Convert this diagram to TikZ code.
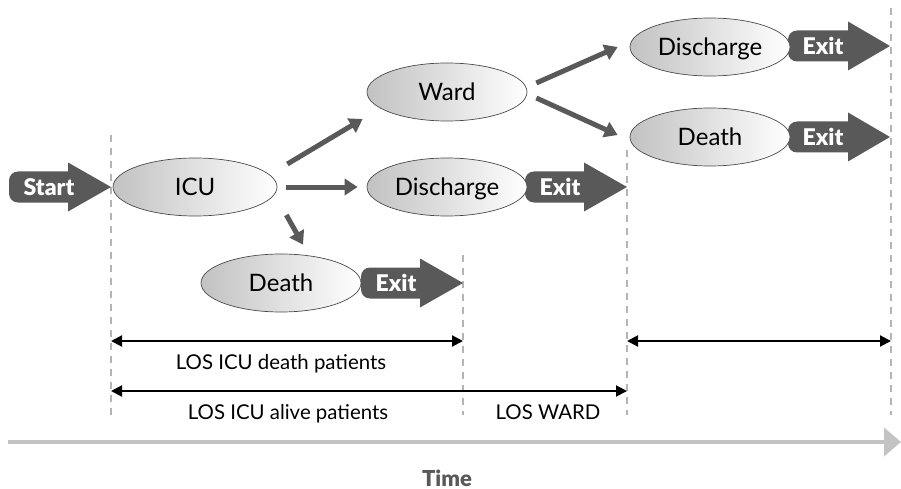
\documentclass[tikz,border=0pt]{standalone}
\usepackage{fontspec}
\setmainfont{Lato}
\newfontfamily\heavyfont{Lato Black}
\usetikzlibrary{arrows.meta,calc,shapes.geometric}

\definecolor{flowgray}{HTML}{595959}
\definecolor{guidegray}{HTML}{B4B4B4}
\definecolor{timegray}{HTML}{C3C3C3}
\definecolor{edgegray}{HTML}{4A4A4A}

\tikzset{
  state/.style={ellipse, draw=edgegray, line width=0.7pt,
    left color=black!24, right color=white,
    minimum width=160pt, minimum height=58pt, inner sep=0pt,
    text depth=0pt, font=\fontsize{24}{28}\selectfont},
  flow/.style={draw=flowgray, line width=5pt,
    -{Triangle[width=16pt,length=13pt]}},
  span/.style={line width=2pt,
    {Triangle[width=11pt,length=11pt]}-{Triangle[width=11pt,length=11pt]}},
  guide/.style={draw=guidegray, line width=2pt, dash pattern=on 7pt off 6pt},
  spanlabel/.style={font=\fontsize{20.4}{24}\selectfont, inner sep=0pt, text depth=0pt},
  tag/.style={text=white, font=\heavyfont\fontsize{23}{27}\selectfont, inner sep=0pt},
}

% block arrow: tail x, head start x, tip x, centre y
\newcommand\blockarrow[4]{%
  \fill[flowgray, rounded corners=9pt] (#1,#4-15.5) rectangle (#2+9,#4+15.5);
  \fill[flowgray] (#2,#4-24.5) -- (#3,#4) -- (#2,#4+24.5) -- cycle;}

\begin{document}
\begin{tikzpicture}[x=1pt, y=-1pt]
\useasboundingbox (0,0) rectangle (901,489);

% time guides
\draw[guide] (111,135) coordinate (g0t) -- (111,415) coordinate (g0b);
\draw[guide] (463,255) coordinate (g1t) -- (463,415) coordinate (g1b);
\draw[guide] (627,150) coordinate (g2t) -- (627,415) coordinate (g2b);
\draw[guide] (891,8) coordinate (g3t) -- (891,415) coordinate (g3b);

% time axis
\coordinate (t0) at (8,442);
\coordinate (t1) at (901,442);
\draw[draw=timegray, line width=4pt, -{Triangle[width=28pt,length=17pt]}] (t0) -- (t1);
\node[font=\heavyfont\fontsize{22}{26}\selectfont, text=flowgray, inner sep=0pt] (timelbl) at (447,478) {Time};

% length-of-stay spans
\coordinate (s1a) at (111,341); \coordinate (s1b) at (463,341);
\coordinate (s2a) at (111,391); \coordinate (s2b) at (627,391);
\coordinate (s3a) at (627,341); \coordinate (s3b) at (891,341);
\draw[span] (s1a) -- (s1b);
\draw[span] (s2a) -- (s2b);
\draw[span] (s3a) -- (s3b);
\node[spanlabel] (l1) at (281,362) {LOS ICU death patients};
\node[spanlabel] (l2) at (288,412) {LOS ICU alive patients};
\node[spanlabel] (l3) at (548,412) {LOS WARD};

% entry and exit block arrows
\blockarrow{9}{68}{111}{187}
\blockarrow{361}{420}{463}{283}
\blockarrow{525}{584}{627}{187}
\blockarrow{788}{848}{890}{46}
\blockarrow{788}{848}{890}{137}

% states
\node[state, minimum width=164pt] (icu) at (195,187) {ICU};
\node[state] (ward) at (447,92) {Ward};
\node[state] (dis) at (447,187) {Discharge};
\node[state] (death) at (281,283) {Death};
\node[state] (dis2) at (710,47) {Discharge};
\node[state] (death2) at (710,137) {Death};

% block arrow captions
\node[tag] (start) at (49,187) {Start};
\node[tag] (exit1) at (396,283) {Exit};
\node[tag] (exit2) at (560,187) {Exit};
\node[tag] (exit3) at (823,46) {Exit};
\node[tag] (exit4) at (823,137) {Exit};

% transitions
\draw[flow] ($(icu.east)+(10,-23)$) -- ($(ward.west)+(-4,27)$);
\draw[flow] ($(icu.east)+(9,0)$) -- ($(dis.west)+(-9,0)$);
\draw[flow] ($(icu.east)+(9,28)$) -- ($(death.north)+(22,-9)$);
\draw[flow] ($(ward.east)+(9,-9)$) -- ($(dis2.west)+(-12,0)$);
\draw[flow] ($(ward.east)+(9,6)$) -- ($(death2.west)+(-12,-2)$);
\end{tikzpicture}
\end{document}
